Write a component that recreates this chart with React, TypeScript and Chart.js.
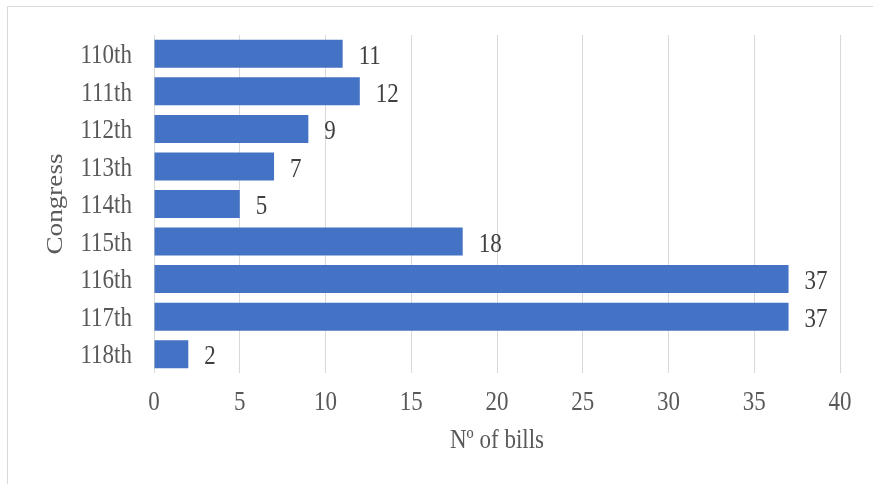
import React, { useEffect, useRef } from "react";
import { Chart, registerables } from "chart.js";

Chart.register(...registerables);

const categories = ["110th", "111th", "112th", "113th", "114th", "115th", "116th", "117th", "118th"];
const billCounts = [11, 12, 9, 7, 5, 18, 37, 37, 2];
const xTickValues = [0, 5, 10, 15, 20, 25, 30, 35, 40];
const xTitle = "Nº of bills";
const yTitle = "Congress";

const FONT = "'Liberation Serif', 'Times New Roman', serif";
const FONT_SIZE = 23;
const V_STRETCH = 1.18; // glyphs in the reference are taller than wide
const HALF_DIGIT = (FONT_SIZE * 0.676 * V_STRETCH) / 2;

function drawText(
  ctx: CanvasRenderingContext2D,
  text: string,
  x: number,
  y: number,
  align: CanvasTextAlign,
  color: string,
  rotated = false
) {
  ctx.save();
  ctx.font = `${FONT_SIZE}px ${FONT}`;
  ctx.fillStyle = color;
  ctx.textAlign = align;
  ctx.textBaseline = "alphabetic";
  ctx.translate(x, y);
  if (rotated) {
    ctx.rotate(-Math.PI / 2);
    ctx.scale(V_STRETCH, 1);
  } else {
    ctx.scale(1, V_STRETCH);
  }
  ctx.fillText(text, 0, 0);
  ctx.restore();
}

const borderPlugin = {
  id: "outerBorder",
  beforeDraw(chart: any) {
    const ctx = chart.ctx;
    ctx.save();
    ctx.fillStyle = "#ffffff";
    ctx.fillRect(0, 0, chart.width, chart.height);
    ctx.strokeStyle = "#d9d9d9";
    ctx.lineWidth = 1;
    ctx.strokeRect(7.5, 6.5, 1000, 1000);
    ctx.restore();
  },
};

const textPlugin = {
  id: "texts",
  afterDraw(chart: any) {
    const ctx = chart.ctx;
    const xs = chart.scales.x;
    const ys = chart.scales.y;
    const area = chart.chartArea;
    // y category labels
    categories.forEach((c, i) => {
      drawText(ctx, c, 132, ys.getPixelForValue(i) + HALF_DIGIT, "right", "#595959");
    });
    // x tick labels
    xTickValues.forEach((v) => {
      drawText(ctx, String(v), xs.getPixelForValue(v), 410, "center", "#595959");
    });
    // axis titles
    drawText(ctx, xTitle, (area.left + area.right) / 2, 448, "center", "#595959");
    drawText(ctx, yTitle, 62, (area.top + area.bottom) / 2, "center", "#595959", true);
    // value labels
    const meta = chart.getDatasetMeta(0);
    meta.data.forEach((el: any, i: number) => {
      drawText(ctx, String(billCounts[i]), el.x + 16, el.y + HALF_DIGIT + 1, "left", "#404040");
    });
  },
};

export default function App() {
  const canvasRef = useRef<HTMLCanvasElement | null>(null);

  useEffect(() => {
    if (!canvasRef.current) return;
    const chart = new Chart(canvasRef.current, {
      type: "bar",
      data: {
        labels: categories,
        datasets: [
          {
            data: billCounts,
            backgroundColor: "#4472c4",
            borderWidth: 0,
            categoryPercentage: 1,
            barPercentage: 0.745,
          },
        ],
      },
      options: {
        indexAxis: "y",
        responsive: false,
        animation: false,
        layout: { padding: { left: 0, top: 35, right: 33, bottom: 0 } },
        plugins: {
          legend: { display: false },
          tooltip: { enabled: false },
        },
        scales: {
          x: {
            min: 0,
            max: 40,
            ticks: { stepSize: 5, display: false },
            grid: { color: "#d9d9d9", lineWidth: 1, drawTicks: false },
            border: { display: false },
            title: { display: false },
            afterFit(scale: any) {
              scale.height = 484 - 373;
            },
          },
          y: {
            ticks: { display: false },
            grid: { display: false, drawTicks: false },
            border: { display: false },
            title: { display: false },
            afterFit(scale: any) {
              scale.width = 154;
            },
          },
        },
      },
      plugins: [borderPlugin, textPlugin],
    });
    return () => chart.destroy();
  }, []);

  return (
    <div style={{ position: "absolute", left: 0, top: 0, width: 873, height: 484 }}>
      <canvas ref={canvasRef} width={873} height={484} style={{ display: "block" }} />
    </div>
  );
}
